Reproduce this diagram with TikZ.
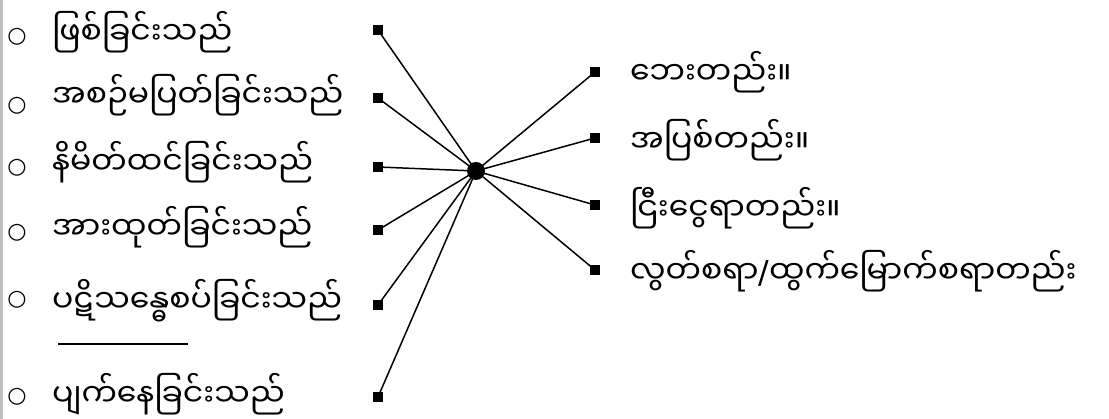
\documentclass[tikz,border=0pt]{standalone}
\usepackage{fontspec}
\newfontfamily\mym[Script=Myanmar]{Noto Sans Myanmar UI}
\newfontfamily\dej{DejaVu Sans}
\begin{document}
\begin{tikzpicture}[x=1pt,y=-1pt,
  lbl/.style={anchor=base west, inner sep=0pt, font=\mym\fontsize{31.5}{36}\selectfont},
  bul/.style={anchor=center, inner sep=0pt, font=\dej\fontsize{22}{24}\selectfont},
  sq/.style={fill=black, minimum size=10.5pt, inner sep=0pt, outer sep=0pt},
  hub/.style={circle, fill=black, minimum size=18pt, inner sep=0pt},
  link/.style={line width=1.5pt}]
\useasboundingbox (0,0) rectangle (1109,419);
\fill[black!25] (0,0) rectangle (3,419);
% left bullets and labels
\node[bul] (b1) at (17,37) {○};
\node[bul] (b2) at (17,106) {○};
\node[bul] (b3) at (17,168) {○};
\node[bul] (b4) at (17,233) {○};
\node[bul] (b5) at (17,300) {○};
\node[bul] (b6) at (17,397) {○};
\node[lbl] (l1) at (52,45) {ဖြစ်ခြင်းသည်};
\node[lbl] (l2) at (52,108) {အစဉ်မပြတ်ခြင်းသည်};
\node[lbl] (l3) at (52,175) {နိမိတ်ထင်ခြင်းသည်};
\node[lbl] (l4) at (52,240) {အားထုတ်ခြင်းသည်};
\node[lbl] (l5) at (52,313) {ပဋိသန္ဓေစပ်ခြင်းသည်};
\node[lbl] (l6) at (52,407) {ပျက်နေခြင်းသည်};
\coordinate (u1) at (58,344);
\coordinate (u2) at (188,344);
\draw[line width=1.8pt] (u1) -- (u2);
% left squares
\node[sq] (s1) at (378,30) {};
\node[sq] (s2) at (378,98) {};
\node[sq] (s3) at (378,167) {};
\node[sq] (s4) at (378,230) {};
\node[sq] (s5) at (378,305) {};
\node[sq] (s6) at (378,397) {};
% hub
\node[hub] (h) at (476,171) {};
% right squares and labels
\node[sq] (r1) at (595,72) {};
\node[sq] (r2) at (595,138) {};
\node[sq] (r3) at (595,205) {};
\node[sq] (r4) at (595,270) {};
\node[lbl] (t1) at (630,85) {ဘေးတည်း။};
\node[lbl] (t2) at (630,153) {အပြစ်တည်း။};
\node[lbl] (t3) at (630,221) {ငြီးငွေရာတည်း။};
\node[lbl] (t4) at (630,284) {လွတ်စရာ{\dej /}ထွက်မြောက်စရာတည်း};
% connectors
\foreach \s in {s1,s2,s3,s4,s5,s6,r1,r2,r3,r4}
  \draw[link] (\s.center) -- (h.center);
\end{tikzpicture}
\end{document}
